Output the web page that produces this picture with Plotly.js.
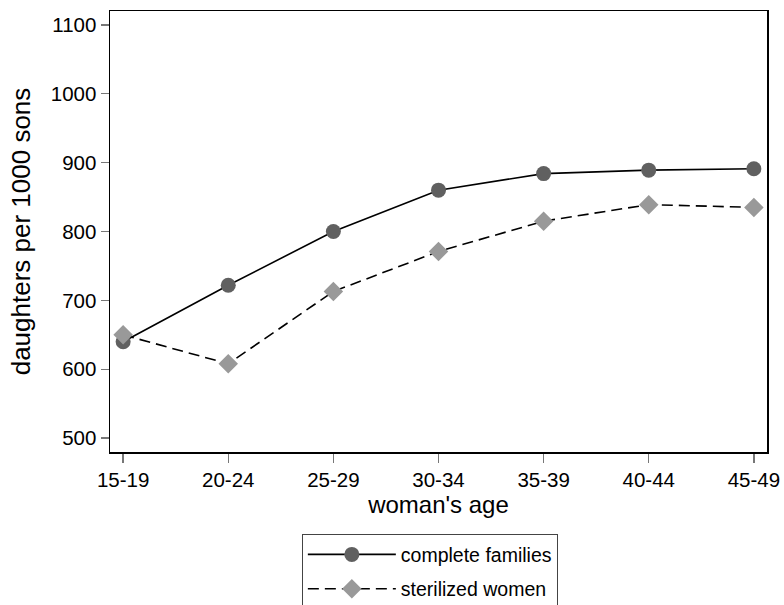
<!DOCTYPE html>
<html>
<head>
<meta charset="utf-8">
<script src="https://cdn.plot.ly/plotly-3.0.1.min.js"></script>
<style>html,body{margin:0;padding:0;background:#fff;}</style>
</head>
<body>
<div id="chart" style="width:784px;height:605px;"></div>
<script>
const ageGroups = ["15-19", "20-24", "25-29", "30-34", "35-39", "40-44", "45-49"];
const completeFamilies = [640, 722, 800, 860, 884, 889, 891];
const sterilizedWomen = [650, 608, 713, 771, 815, 839, 835];
const yTicks = [500, 600, 700, 800, 900, 1000, 1100];

const traces = [
  {
    x: ageGroups, y: completeFamilies, name: "complete families", legendgroup: "a",
    type: "scatter", mode: "lines+markers",
    line: {color: "#000000", width: 1.6},
    marker: {symbol: "circle", size: 15, color: "#606060"}
  },
  {
    x: ageGroups, y: sterilizedWomen, name: "sterilized women", legendgroup: "b",
    type: "scatter", mode: "lines+markers",
    line: {color: "#000000", width: 1.6, dash: "11px,6px"},
    marker: {symbol: "diamond", size: 15, color: "#999999"}
  }
];

const layout = {
  width: 784, height: 605,
  margin: {l: 110, r: 17, t: 11, b: 153},
  paper_bgcolor: "#ffffff", plot_bgcolor: "#ffffff",
  font: {family: "Liberation Sans, Arial, sans-serif", size: 20, color: "#000"},
  showlegend: true,
  xaxis: {
    type: "category", range: [-0.125, 6.125],
    showgrid: false, zeroline: false,
    showline: true, linecolor: "#000", linewidth: 1.5, mirror: true,
    ticks: "outside", ticklen: 9, tickcolor: "#777", tickwidth: 1.5,
    tickfont: {size: 20.5},
    title: {text: "woman's age", font: {size: 24}, standoff: 5}
  },
  yaxis: {
    range: [480, 1120], tickvals: yTicks,
    showgrid: false, zeroline: false,
    showline: true, linecolor: "#000", linewidth: 1.5, mirror: true,
    ticks: "outside", ticklen: 8, tickcolor: "#777", tickwidth: 1.5,
    tickfont: {size: 20.5},
    title: {text: "daughters per 1000 sons", font: {size: 26}, standoff: 12}
  },
  legend: {
    xref: "paper", yref: "container",
    x: 0.292, xanchor: "left", y: 0.117, yanchor: "top",
    bordercolor: "#444", borderwidth: 1, bgcolor: "#fff",
    font: {size: 19.5}, itemwidth: 88, tracegroupgap: 6, traceorder: "grouped"
  }
};

Plotly.newPlot("chart", traces, layout, {displayModeBar: false, staticPlot: true});
</script>
</body>
</html>
